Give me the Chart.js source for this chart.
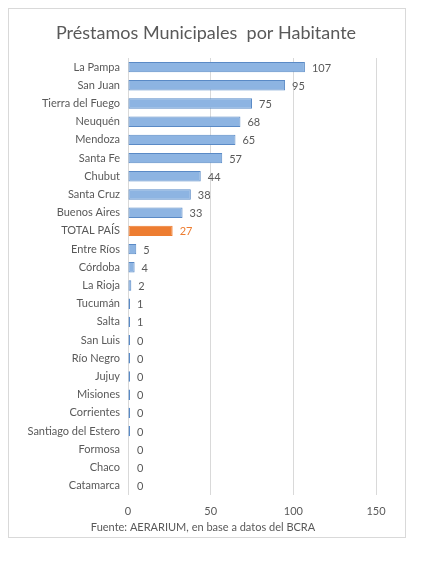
<!DOCTYPE html>
<html>
<head>
<meta charset="utf-8">
<script src="https://cdn.jsdelivr.net/npm/chart.js@4"></script>
<style>
  body { margin: 0; background: #fff; }
  #box { position: absolute; left: 8px; top: 8px; width: 396px; height: 528px; border: 1px solid #d9d9d9; }
  #myChart { position: absolute; left: 0; top: 0; }
</style>
</head>
<body>
<div id="box"><canvas id="myChart" width="396" height="528"></canvas></div>
<script>
var provinces = ['La Pampa', 'San Juan', 'Tierra del Fuego', 'Neuquén', 'Mendoza', 'Santa Fe', 'Chubut',
    'Santa Cruz', 'Buenos Aires', 'TOTAL PAÍS', 'Entre Ríos', 'Córdoba', 'La Rioja', 'Tucumán', 'Salta',
    'San Luis', 'Río Negro', 'Jujuy', 'Misiones', 'Corrientes', 'Santiago del Estero', 'Formosa', 'Chaco', 'Catamarca'];
var loansPerCapita = [107, 95, 75, 68, 65, 57, 44, 38, 33, 27, 5, 4, 2, 1, 1,
    0.4, 0.4, 0.4, 0.4, 0.4, 0.4, 0, 0, 0];
var xTicks = [0, 50, 100, 150];
var titleText = 'Préstamos Municipales  por Habitante';
var sourceText = 'Fuente: AERARIUM, en base a datos del BCRA';

var blue = '#8db4e2';
var blueBorder = '#5a8ac6';
var orange = '#ed7d31';
var grey = '#595959';

function isTotal(i) {
    return provinces[i] == 'TOTAL PAÍS';
}

function barColor(fill) {
    return function (c) {
        if (loansPerCapita[c.dataIndex] === 0) return 'rgba(0,0,0,0)';
        return isTotal(c.dataIndex) ? orange : fill;
    };
}

// value next to each bar, plus title and source line (not centred on the plot in the original)
var extraText = {
    id: 'extraText',
    afterDatasetsDraw: function (chart) {
        var ctx = chart.ctx;
        var meta = chart.getDatasetMeta(0);
        var x0 = chart.scales.x.getPixelForValue(0);
        ctx.save();
        ctx.font = '11px Lato';
        ctx.textBaseline = 'middle';
        ctx.textAlign = 'left';
        meta.data.forEach(function (bar, i) {
            ctx.fillStyle = isTotal(i) ? orange : grey;
            var end = Math.max(bar.x, x0 + 2);
            ctx.fillText(String(Math.round(loansPerCapita[i])), end + 7, bar.y + 1);
        });
        ctx.textAlign = 'center';
        ctx.fillStyle = grey;
        ctx.fillText(sourceText, 194, 518);
        ctx.font = '18px Lato';
        ctx.fillText(titleText, 197, 24);
        ctx.restore();
    }
};

var ctx = document.getElementById('myChart').getContext('2d');
var chart = new Chart(ctx, {
    type: 'bar',
    data: {
        labels: provinces,
        datasets: [{
            data: loansPerCapita,
            backgroundColor: barColor(blue),
            borderColor: barColor(blueBorder),
            borderWidth: 1,
            borderSkipped: false,
            minBarLength: 2,
            categoryPercentage: 1,
            barPercentage: 0.57
        }]
    },
    plugins: [extraText],
    options: {
        indexAxis: 'y',
        responsive: false,
        animation: false,
        layout: { padding: { left: 0, right: 29, top: 49, bottom: 8 } },
        plugins: {
            legend: { display: false },
            tooltip: { enabled: false }
        },
        scales: {
            x: {
                min: 0,
                max: 150,
                afterBuildTicks: function (scale) {
                    scale.ticks = xTicks.map(function (v) { return { value: v }; });
                },
                grid: { color: '#d9d9d9', drawTicks: false },
                border: { display: false },
                ticks: { color: grey, font: { family: 'Lato', size: 11 }, padding: 10.5 }
            },
            y: {
                afterFit: function (scale) { scale.width = 119; },
                grid: { display: false, drawTicks: false },
                border: { display: true, color: '#d9d9d9' },
                ticks: { color: grey, font: { family: 'Lato', size: 11 }, padding: 8, autoSkip: false }
            }
        }
    }
});
</script>
</body>
</html>
